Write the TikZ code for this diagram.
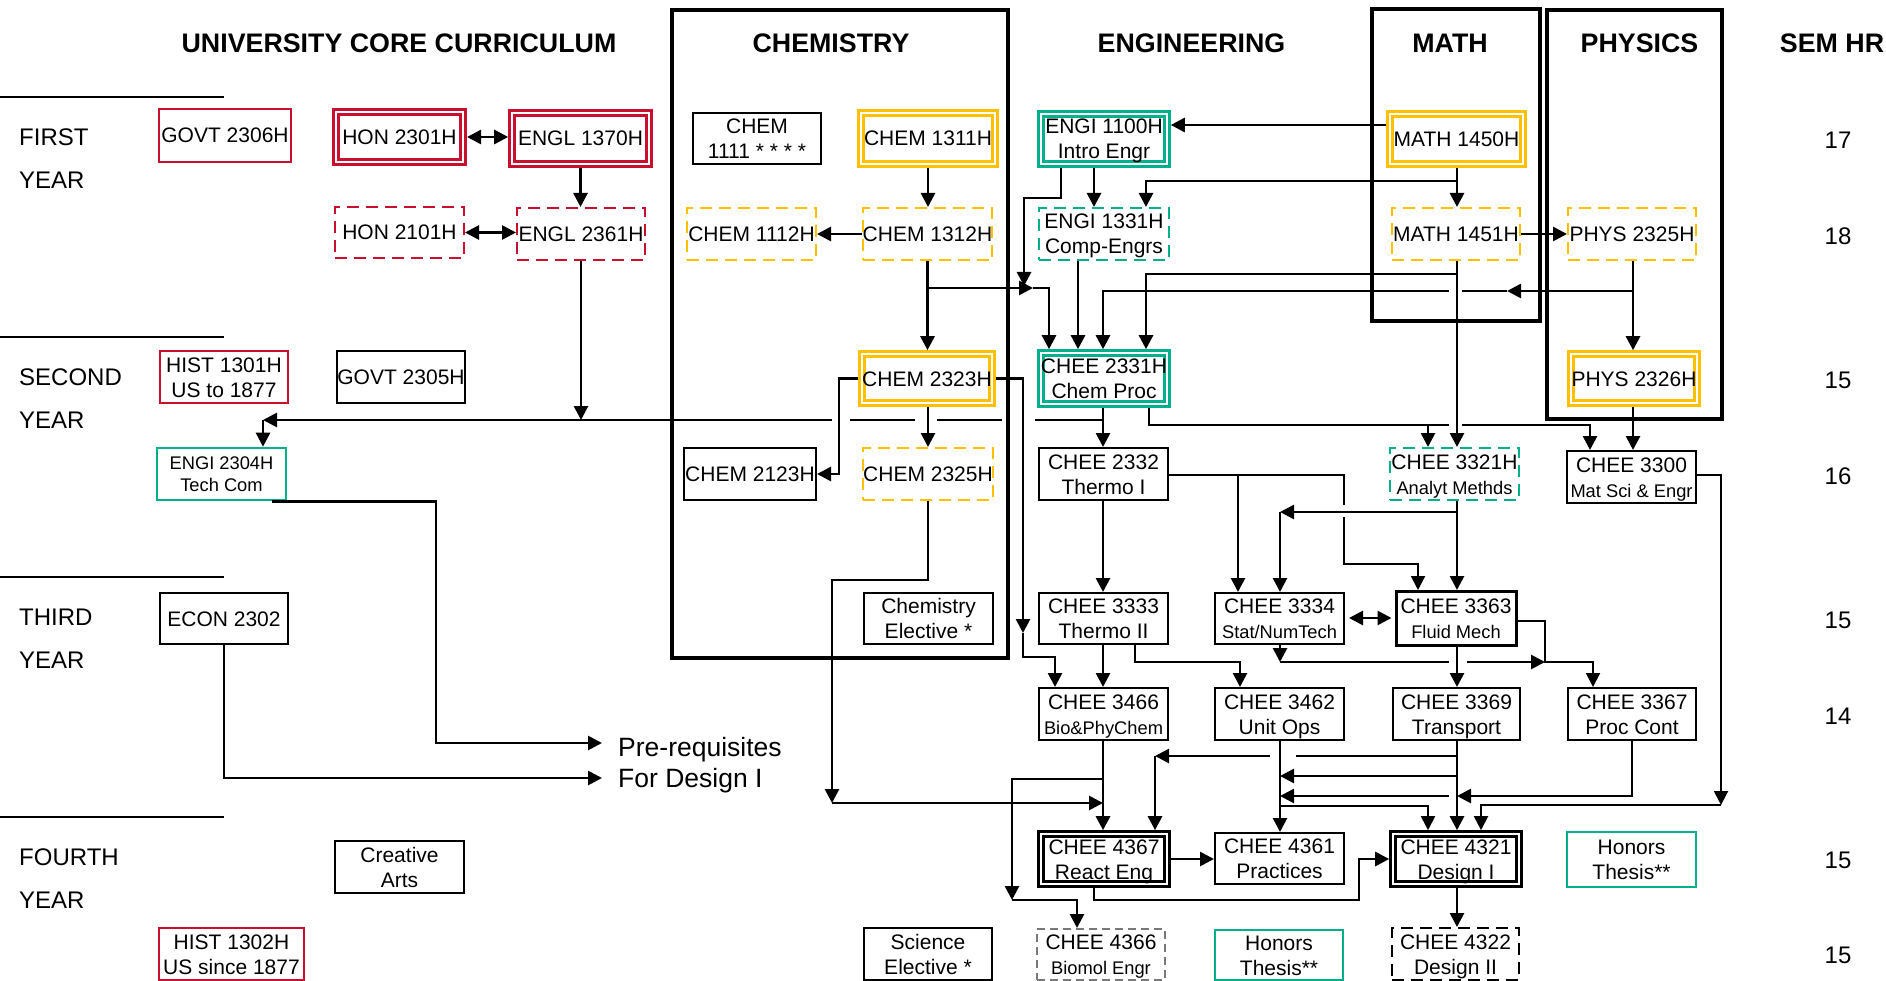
\documentclass[tikz,border=0pt]{standalone}
\usepackage{fontspec}
\setmainfont{Liberation Sans}
\usetikzlibrary{arrows.meta}
\definecolor{cred}{RGB}{200,16,46}
\definecolor{cyel}{RGB}{255,192,0}
\definecolor{cgrn}{RGB}{0,176,138}
\definecolor{cgry}{RGB}{120,120,120}
\newcommand{\fmain}{\fontsize{21}{25}\selectfont}
\newcommand{\fsml}{\fontsize{18.3}{22}\selectfont}
\newcommand{\fttl}{\fontsize{26.8}{32}\selectfont\bfseries}
\newcommand{\fyr}{\fontsize{24}{28}\selectfont}
\newcommand{\fpre}{\fontsize{26.5}{31}\selectfont}
\begin{document}
\begin{tikzpicture}[x=1pt,y=-1pt,
  >={Triangle[length=14pt,width=14pt]},
  cbase/.style={draw, line width=2pt, outer sep=1pt, inner sep=0pt, align=center, font=\fmain, minimum width=129pt, minimum height=52pt, text height=15pt, text depth=0pt},
  two/.style={text height=40pt, text depth=0pt},
  kbox/.style={cbase},
  rbox/.style={cbase, draw=cred},
  gbox/.style={cbase, draw=cgrn, line width=2.6pt, outer sep=1.3pt},
  dsh/.style={dash pattern=on 12pt off 7pt},
  rdash/.style={rbox, dsh},
  ydash/.style={cbase, draw=cyel, dsh},
  gdash/.style={cbase, draw=cgrn, dsh},
  kdash/.style={cbase, line width=2.6pt, dsh},
  grdash/.style={cbase, draw=cgry, line width=1.6pt, dash pattern=on 8pt off 5pt},
  dbl/.style={cbase, double=white, double distance=2.4pt, line width=2.6pt, outer sep=3.8pt},
  rdbl/.style={dbl, draw=cred},
  ydbl/.style={dbl, draw=cyel},
  gdbl/.style={dbl, draw=cgrn},
  kdbl/.style={dbl, draw=black},
  ttl/.style={font=\fttl, inner sep=0pt},
  yrlab/.style={font=\fyr, anchor=west, inner sep=0pt},
  hrlab/.style={font=\fyr, inner sep=0pt},
  cn/.style={line width=2.7pt},
  tn/.style={line width=1.9pt},
  bigbox/.style={line width=4pt},
]
\fill[white] (0,0) rectangle (1886,981);
\useasboundingbox (0,0) rectangle (1886,981);

% helper coordinates
\foreach \v in {263,272,436,832,839,850,915,928,937,1002,1012,1023,1024,1035,1049,1055,1061,1077,1078,1094,1103,1135,1146,1149,1155,1238,1240,1270,1280,1296,1344,1359,1418,1428,1449,1457,1462,1467,1481,1507,1545,1590,1593,1632,1633,1721}
  \coordinate (x\v) at (\v,0);
\foreach \v in {125,181,198,274,291,420,425,475,505,512,517,564,580,618,621,633,657,662,756,776,779,796,803,805,806,900}
  \coordinate (y\v) at (0,\v);
\coordinate (jn) at (1033,288);
\coordinate (jd) at (1024,286);
\coordinate (pa) at (602,743);
\coordinate (pb) at (602,778);

% department frames
\draw[bigbox] (672,10.5) rectangle (1008,658);
\draw[bigbox] (1372,9.5) rectangle (1540,321.5);
\draw[bigbox] (1547,10) rectangle (1722,419);

% titles
\node[ttl] (tU) at (399,43) {UNIVERSITY CORE CURRICULUM};
\node[ttl] (tC) at (831,43) {CHEMISTRY};
\node[ttl] (tE) at (1191.5,43) {ENGINEERING};
\node[ttl] (tM) at (1450,43) {MATH};
\node[ttl] (tP) at (1639.5,43) {PHYSICS};
\node[ttl] (tS) at (1832,43) {SEM HR};

% year labels and separators
\foreach \yy in {97,337,577,817} \draw[line width=2pt] (0,\yy) -- (224,\yy);
\node[yrlab] (f1) at (19,137) {FIRST};
\node[yrlab] (f2) at (19,180) {YEAR};
\node[yrlab] (s1) at (19,377) {SECOND};
\node[yrlab] (s2) at (19,420) {YEAR};
\node[yrlab] (t1) at (19,617) {THIRD};
\node[yrlab] (t2) at (19,660) {YEAR};
\node[yrlab] (o1) at (19,857) {FOURTH};
\node[yrlab] (o2) at (19,900) {YEAR};

% semester hours
\node[hrlab] (h1) at (1838,140) {17};
\node[hrlab] (h2) at (1838,236) {18};
\node[hrlab] (h3) at (1838,380) {15};
\node[hrlab] (h4) at (1838,476) {16};
\node[hrlab] (h5) at (1838,620) {15};
\node[hrlab] (h6) at (1838,716) {14};
\node[hrlab] (h7) at (1838,860) {15};
\node[hrlab] (h8) at (1838,955) {15};

% row 1
\node[rbox, minimum width=132pt, minimum height=53pt] (govtA) at (225,135.5) {GOVT 2306H};
\node[rdbl, minimum width=127.5pt, minimum height=50.5pt] (honA) at (399.5,137) {HON 2301H};
\node[rdbl, minimum width=137pt, minimum height=51pt] (englA) at (580.5,138.5) {ENGL 1370H};
\node[kbox, two, minimum width=128pt, minimum height=51pt] (chemA) at (757,138.5) {CHEM\\1111 * * * *};
\node[ydbl, minimum width=134pt, minimum height=51pt] (chemB) at (928,138.5) {CHEM 1311H};
\node[gdbl, two, minimum width=126pt, minimum height=50pt] (engiA) at (1104,139) {ENGI 1100H\\Intro Engr};
\node[ydbl, minimum width=133pt, minimum height=50pt] (mathA) at (1456.5,139) {MATH 1450H};

% row 2
\node[rdash, minimum height=51pt] (honB) at (399.5,232.5) {HON 2101H};
\node[rdash, minimum width=128pt] (englB) at (581,234) {ENGL 2361H};
\node[ydash] (chemC) at (751.5,234) {CHEM 1112H};
\node[ydash] (chemD) at (927.5,234) {CHEM 1312H};
\node[gdash, two, minimum width=130pt] (engiB) at (1104,234) {ENGI 1331H\\Comp-Engrs};
\node[ydash, minimum width=128pt] (mathB) at (1456,234) {MATH 1451H};
\node[ydash, minimum width=128pt] (physA) at (1632,234) {PHYS 2325H};

% row 3
\node[rbox, two, minimum width=128pt] (histA) at (224,377) {HIST 1301H\\US to 1877};
\node[kbox, minimum width=128pt] (govtB) at (401,377) {GOVT 2305H};
\node[ydbl, minimum width=128pt, minimum height=49pt] (chemE) at (927,378.5) {CHEM 2323H};
\node[gdbl, two, minimum width=126pt, minimum height=51pt] (cheeA) at (1104,378.5) {CHEE 2331H\\Chem Proc};
\node[ydbl, minimum width=126pt, minimum height=49pt] (physB) at (1634,378.5) {PHYS 2326H};

% row 4
\node[gbox, font=\fsml, text height=35.1pt, text depth=0pt] (engiC) at (221.5,474) {ENGI 2304H\\Tech Com};
\node[kbox, minimum width=132pt] (chemF) at (750,474) {CHEM 2123H};
\node[ydash, minimum width=130pt] (chemG) at (928,474) {CHEM 2325H};
\node[kbox, two] (cheeB) at (1103.5,474) {CHEE 2332\\Thermo I};
\node[gdash, two] (cheeC) at (1454.5,474) {CHEE 3321H\\{\fsml Analyt Methds}};
\node[kbox, two] (cheeD) at (1631.5,477) {CHEE 3300\\{\fsml Mat Sci \& Engr}};

% row 5
\node[kbox, minimum width=128pt, minimum height=51pt] (econ) at (224,618.5) {ECON 2302};
\node[kbox, two, minimum height=51pt] (chemH) at (928.5,618.5) {Chemistry\\Elective *};
\node[kbox, two, minimum height=51pt] (cheeE) at (1103.5,618.5) {CHEE 3333\\Thermo II};
\node[kbox, two, minimum height=51pt] (cheeF) at (1279.5,618.5) {CHEE 3334\\{\fsml Stat/NumTech}};
\node[kbox, two, line width=3pt, outer sep=1.5pt, minimum width=120pt, minimum height=54pt] (cheeG) at (1456,618.5) {CHEE 3363\\{\fsml Fluid Mech}};

% row 6
\node[kbox, two] (cheeH) at (1103.5,714) {CHEE 3466\\{\fsml Bio\&PhyChem}};
\node[kbox, two] (cheeI) at (1279.5,714) {CHEE 3462\\Unit Ops};
\node[kbox, two, minimum width=127pt] (cheeJ) at (1456.5,714) {CHEE 3369\\Transport};
\node[kbox, two, minimum width=128pt] (cheeK) at (1632,714) {CHEE 3367\\Proc Cont};

% row 7
\node[kbox, two] (arts) at (399.5,867) {Creative\\Arts};
\node[kdbl, two, minimum width=126pt, minimum height=50pt] (cheeL) at (1104,859) {CHEE 4367\\React Eng};
\node[kbox, two, minimum height=51pt] (cheeM) at (1279.5,858.5) {CHEE 4361\\Practices};
\node[kdbl, two, minimum width=126pt, minimum height=50pt] (cheeN) at (1456,859) {CHEE 4321\\Design I};
\node[gbox, two, minimum height=55pt] (honC) at (1631.5,859.5) {Honors\\Thesis**};

% row 8
\node[rbox, two, minimum width=145pt] (histB) at (231.5,954) {HIST 1302H\\US since 1877};
\node[kbox, two, minimum width=128pt] (sci) at (928,954) {Science\\Elective *};
\node[grdash, two, minimum width=128pt, minimum height=51pt] (cheeO) at (1101,954.5) {CHEE 4366\\{\fsml Biomol Engr}};
\node[gbox, two, minimum width=128pt, minimum height=50pt] (honD) at (1279,955) {Honors\\Thesis**};
\node[kdash, two, minimum width=127pt] (cheeP) at (1455.5,954) {CHEE 4322\\Design II};

% pre-requisites text
\node[font=\fpre, anchor=base west, inner sep=0pt] (pre1) at (618,756) {Pre-requisites};
\node[font=\fpre, anchor=base west, inner sep=0pt] (pre2) at (618,787) {For Design I};

% ---------- connectors ----------
% core curriculum
\draw[cn,<->] (honA.east) -- (englA.west |- honA.east);
\draw[cn,<->] (honB.east) -- (englB.west |- honB.east);
\draw[cn,->] (englA.south) -- (englA.south |- englB.north);
\draw[cn,->] (englB.south) -- (englB.south |- y420);

% long line to ENGI 2304H (with line hops)
\draw[cn] (x1103 |- y420) -- (x1035 |- y420);
\draw[cn] (x1002 |- y420) -- (x937 |- y420);
\draw[cn] (x915 |- y420) -- (x850 |- y420);
\draw[cn,->] (x832 |- y420) -- (x263 |- y420);
\draw[cn,->] (x263 |- y420) -- (x263 |- engiC.north);

% chemistry
\draw[cn,->] (chemB.south) -- (chemB.south |- chemD.north);
\draw[cn,->] (chemD.west) -- (chemC.east |- chemD.west);
\draw[cn,->] (chemD.south) -- (chemD.south |- chemE.north);
\draw[cn,->] (chemD.south |- jn) -- (jn);
\draw[cn,->] (x1061 |- engiA.south) -- (x1061 |- y198) -| (jd);
\draw[cn,->] (jn) -| (x1049 |- cheeA.north);
\draw[cn,->] (x928 |- chemE.south) -- (x928 |- chemG.north);
\draw[cn,->] (chemE.west) -| (x839 |- chemF.east) -- (chemF.east);
\draw[cn,->] (chemE.east) -| (x1023 |- y633);
\draw[cn,->] (x1023 |- y633) |- (x1055 |- y657) -- (x1055 |- cheeH.north);
\draw[cn,->] (x928 |- chemG.south) |- (x832 |- y580) -- (x832 |- y803);
\draw[cn,->] (x832 |- y803) -- (x1103 |- y803);

% engineering / math / physics
\draw[cn,->] (x1094 |- engiA.south) -- (x1094 |- engiB.north);
\draw[cn,->] (mathA.west |- y125) -- (engiA.east |- y125);
\draw[cn,->] (x1457 |- mathA.south) -- (x1457 |- mathB.north);
\draw[cn,->] (x1457 |- y181) -| (x1146 |- engiB.north);
\draw[cn,->] (mathB.east) -- (physA.west |- mathB.east);
\draw[cn,->] (x1078 |- engiB.south) -- (x1078 |- cheeA.north);
\draw[cn,->] (x1457 |- y274) -| (x1146 |- cheeA.north);
\draw[cn,->] (x1633 |- y291) -- (x1507 |- y291);
\draw[cn] (x1507 |- y291) -- (x1462 |- y291);
\draw[cn,->] (x1449 |- y291) -| (x1103 |- cheeA.north);
\draw[cn,->] (x1633 |- physA.south) -- (x1633 |- physB.north);
\draw[cn,->] (x1457 |- mathB.south) -- (x1457 |- cheeC.north);

% second year
\draw[cn,->] (x1103 |- cheeA.south) -- (x1103 |- cheeB.north);
\draw[cn] (x1149 |- cheeA.south) |- (x1449 |- y425);
\draw[cn,->] (x1462 |- y425) -| (x1590 |- cheeD.north);
\draw[cn,->] (x1428 |- y425) -- (x1428 |- cheeC.north);
\draw[cn,->] (x1633 |- physB.south) -- (x1633 |- cheeD.north);
\draw[tn] (cheeB.east |- y475) -- (x1344 |- y475) -- (x1344 |- y505);
\draw[tn,->] (x1344 |- y517) |- (x1418 |- y564) -- (x1418 |- cheeG.north);
\draw[cn,->] (x1238 |- y475) -- (x1238 |- cheeF.north);
\draw[cn,->] (x1457 |- cheeC.south) -- (x1457 |- cheeG.north);
\draw[cn,->] (x1457 |- y512) -- (x1280 |- y512);
\draw[cn,->] (x1280 |- y512) -- (x1280 |- cheeF.north);
\draw[cn,->] (x1103 |- cheeB.south) -- (x1103 |- cheeE.north);
\draw[tn,->] (cheeD.east |- y475) -| (x1721 |- y805);
\draw[tn,->] (x1721 |- y805) -| (x1481 |- cheeN.north);

% third year
\draw[cn,<->, shorten <=4pt, shorten >=3pt] (cheeF.east |- y618) -- (cheeG.west |- y618);
\draw[tn,->] (cheeG.east |- y621) -| (x1545 |- y662) -| (x1593 |- cheeK.north);
\draw[cn,->] (x1280 |- cheeF.south) -- (x1280 |- y662);
\draw[cn] (x1280 |- y662) -- (x1449 |- y662);
\draw[cn,->] (x1467 |- y662) -- (x1545 |- y662);
\draw[cn,->] (x1135 |- cheeE.south) |- (x1240 |- y662) -- (x1240 |- cheeI.north);
\draw[cn,->] (x1103 |- cheeE.south) -- (x1103 |- cheeH.north);
\draw[cn,->] (x1457 |- cheeG.south) -- (x1457 |- cheeJ.north);

% fourth year
\draw[cn,->] (x1103 |- cheeH.south) -- (x1103 |- cheeL.north);
\draw[cn,->] (x1103 |- y779) -| (x1012 |- y900);
\draw[cn,->] (x1012 |- y900) -| (x1077 |- cheeO.north);
\draw[cn] (x1457 |- y756) -- (x1296 |- y756);
\draw[cn,->] (x1270 |- y756) -- (x1155 |- y756);
\draw[cn,->] (x1155 |- y756) -- (x1155 |- cheeL.north);
\draw[cn,->] (x1457 |- y776) -- (x1280 |- y776);
\draw[cn,->] (x1632 |- cheeK.south) |- (x1457 |- y796);
\draw[cn,->] (x1449 |- y796) -- (x1280 |- y796);
\draw[cn,->] (x1280 |- cheeI.south) -- (x1280 |- cheeM.north);
\draw[tn,->] (x1280 |- y806) -| (x1428 |- cheeN.north);
\draw[cn,->] (x1457 |- cheeJ.south) -- (x1457 |- cheeN.north);
\draw[cn,->] (cheeL.east) -- (cheeM.west |- cheeL.east);
\draw[cn,->] (x1094 |- cheeL.south) |- (x1359 |- y900) |- (cheeN.west);
\draw[cn,->] (x1457 |- cheeN.south) -- (x1457 |- cheeP.north);

% pre-requisites for Design I
\draw[cn,->] (x272 |- engiC.south) -| (x436 |- pa) -- (pa);
\draw[cn,->] (econ.south) |- (pb);
\end{tikzpicture}
\end{document}
